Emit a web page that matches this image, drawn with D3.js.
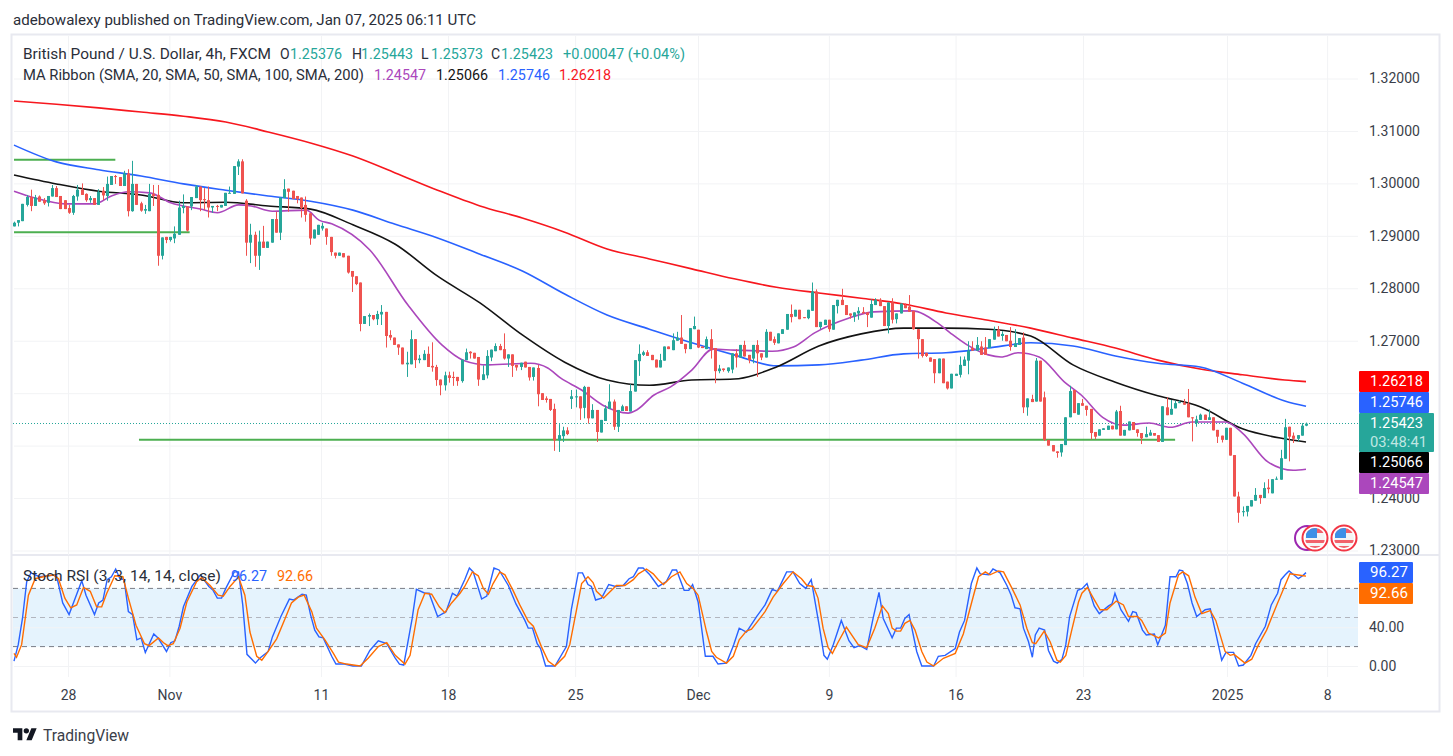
<!DOCTYPE html>
<html>
<head>
<meta charset="utf-8">
<script src="https://cdnjs.cloudflare.com/ajax/libs/d3/7.8.5/d3.min.js"></script>
<style>
  html, body { margin: 0; background: #fff; }
  svg { display: block; font-family: Roboto, sans-serif; }
  .tick line { stroke: #f2f3f5; }
  .domain { display: none; }
  .tick text { fill: #3a3e49; font-size: 14px; font-family: Roboto, sans-serif; }
</style>
</head>
<body>
<div id="chart"></div>
<script>
const width = 1453;
const height = 756;

// GBP/USD 4h, [open, high, low, close] in units of 0.0001
const candles = [
[12918,12927,12918,12925],[12925,12930,12918,12930],[12928,12961,12928,12961],[12959,12978,12956,12974],[12974,12988,12947,12957],
[12957,12978,12957,12973],[12975,12977,12965,12965],[12968,12972,12959,12962],[12963,12976,12956,12976],[12975,12997,12975,12991],
[12991,12995,12974,12974],[12976,12976,12951,12951],[12968,12968,12951,12951],[12953,12959,12942,12944],[12944,12978,12940,12976],
[12975,12997,12967,12988],[12988,13000,12978,12978],[12980,12981,12965,12968],[12968,12976,12963,12972],[12972,12972,12959,12959],
[12959,12989,12959,12984],[12986,12993,12968,12977],[12976,13013,12967,12999],[12997,13014,12997,13014],[13014,13016,12999,13013],
[13012,13012,12995,12995],[12995,13024,12995,13019],[13019,13027,12937,12947],[12947,13043,12946,12999],[12999,12999,12959,12959],
[12962,12965,12946,12948],[12948,12959,12942,12951],[12947,12999,12947,12980],[12980,12997,12957,12976],[12978,12997,12843,12862],
[12862,12897,12855,12897],[12898,12898,12886,12892],[12892,12898,12889,12898],[12895,12918,12886,12904],[12902,12967,12902,12954],
[12953,12979,12943,12957],[12956,12956,12908,12910],[12956,12974,12949,12974],[12972,12997,12972,12994],[12994,12994,12947,12968],
[12970,12991,12949,12968],[12968,12994,12935,12954],[12954,12957,12944,12957],[12957,12959,12947,12956],[12954,12959,12954,12959],
[12957,12982,12957,12982],[12981,12994,12981,12982],[12980,13033,12980,13033],[13032,13046,13016,13042],[13042,13046,12981,12981],
[12967,12970,12862,12887],[12887,12923,12848,12902],[12902,12908,12841,12862],[12862,12910,12835,12889],[12889,12919,12877,12877],
[12877,12889,12877,12889],[12887,12932,12887,12932],[12932,12946,12906,12906],[12906,12973,12892,12973],[12972,13008,12972,12989],
[12990,12990,12946,12984],[12986,12986,12970,12970],[12976,12976,12962,12970],[12973,12973,12935,12953],[12959,12975,12927,12940],
[12943,12943,12883,12895],[12895,12912,12895,12912],[12902,12921,12902,12921],[12914,12925,12910,12919],[12914,12914,12883,12898],
[12898,12898,12862,12869],
[12868,12868,12857,12862],[12862,12868,12862,12868],[12867,12867,12859,12859],[12862,12862,12828,12830],[12833,12833,12793,12822],
[12823,12823,12806,12808],[12811,12811,12718,12732],[12732,12747,12732,12747],[12746,12752,12728,12749],[12749,12749,12739,12741],
[12741,12757,12730,12751],[12750,12768,12730,12755],[12755,12755,12687,12709],[12711,12720,12701,12706],[12706,12706,12692,12692],
[12693,12693,12673,12687],[12687,12687,12655,12655],[12655,12679,12631,12658],[12655,12720,12655,12703],[12703,12703,12648,12663],
[12663,12673,12657,12666],[12663,12682,12663,12675],[12675,12689,12650,12650],[12652,12697,12641,12649],[12650,12654,12614,12625],
[12626,12626,12596,12615],[12615,12641,12605,12634],[12634,12641,12620,12629],[12631,12641,12614,12629],[12631,12631,12614,12623],
[12623,12664,12620,12664],[12663,12685,12663,12678],[12679,12680,12666,12676],[12677,12677,12666,12666],[12669,12669,12614,12626],
[12625,12653,12625,12636],[12634,12682,12628,12671],[12668,12683,12661,12683],[12680,12695,12680,12690],[12690,12694,12682,12682],
[12684,12714,12664,12666],[12666,12674,12650,12674],[12674,12674,12631,12652],[12654,12654,12643,12649],[12650,12658,12644,12658],
[12660,12660,12649,12649],[12650,12650,12624,12630],[12631,12649,12624,12649],[12648,12654,12575,12598],[12600,12600,12587,12587],
[12590,12594,12582,12587],[12589,12589,12566,12568],[12570,12580,12490,12510],[12510,12541,12488,12520],[12518,12536,12507,12529],
[12529,12535,12520,12522],[12589,12606,12570,12594],[12592,12607,12573,12594],[12594,12594,12549,12571],[12572,12614,12552,12612],
[12612,12612,12542,12552],[12552,12579,12552,12568],[12568,12568,12507,12526],[12525,12549,12525,12549],[12547,12577,12547,12571],
[12570,12617,12570,12584],[12584,12588,12530,12536],[12536,12568,12526,12568],[12566,12578,12566,12575],[12575,12575,12566,12566],
[12565,12617,12565,12604],[12603,12663,12603,12663],[12661,12693,12633,12675],[12673,12681,12671,12678],[12678,12682,12671,12671],
[12673,12673,12663,12663],[12664,12664,12649,12649],[12649,12675,12649,12663],
[12662,12689,12662,12689],[12689,12689,12684,12684],[12682,12714,12682,12701],[12700,12717,12700,12706],[12706,12749,12694,12694],
[12694,12694,12676,12684],[12684,12724,12684,12724],[12722,12746,12722,12728],[12721,12721,12686,12687],[12689,12689,12686,12686],
[12684,12708,12684,12703],[12703,12722,12666,12682],[12686,12686,12619,12642],[12642,12654,12638,12647],[12647,12647,12641,12644],
[12642,12649,12639,12649],[12645,12676,12638,12676],[12676,12684,12649,12668],[12668,12692,12668,12692],[12692,12700,12670,12670],
[12673,12673,12657,12663],[12666,12692,12657,12692],[12692,12701,12631,12676],[12676,12676,12663,12668],[12668,12722,12668,12717],
[12717,12717,12700,12700],[12703,12708,12692,12696],[12695,12714,12695,12714],[12713,12722,12713,12722],[12721,12751,12721,12751],
[12751,12769,12735,12745],[12746,12759,12746,12759],[12759,12759,12741,12741],[12745,12745,12743,12743],[12743,12759,12741,12759],
[12757,12811,12757,12794],[12794,12798,12726,12726],[12726,12736,12722,12736],[12730,12740,12730,12740],[12740,12740,12717,12722],
[12721,12768,12721,12768],[12766,12778,12752,12778],[12778,12799,12768,12768],[12768,12768,12749,12749],[12752,12752,12742,12748],
[12746,12754,12736,12754],[12752,12764,12740,12757],[12755,12764,12752,12752],[12754,12754,12726,12749],[12744,12779,12744,12770],
[12768,12781,12768,12778],[12778,12781,12766,12766],[12766,12766,12728,12728],[12728,12773,12714,12773],[12773,12781,12733,12740],
[12741,12752,12733,12752],[12752,12771,12752,12771],[12768,12771,12762,12762],[12765,12787,12755,12755],[12757,12757,12721,12722],
[12722,12722,12666,12703],[12703,12703,12668,12671],[12677,12677,12669,12671],[12668,12668,12660,12660],[12665,12665,12619,12638],
[12638,12666,12638,12666],[12666,12666,12619,12619],[12622,12622,12607,12609],[12609,12637,12609,12637],[12633,12637,12633,12637],
[12635,12670,12630,12654],[12652,12670,12652,12664],[12662,12699,12636,12681],[12686,12699,12681,12681],[12681,12707,12681,12692],
[12689,12699,12673,12673],[12687,12707,12673,12673],[12686,12703,12686,12703],[12702,12727,12702,12721],[12721,12728,12708,12708],
[12709,12718,12700,12713],[12711,12711,12699,12699],[12700,12726,12681,12688],[12688,12722,12688,12695],[12692,12705,12692,12705],
[12706,12716,12562,12573],[12573,12590,12557,12590],[12589,12597,12583,12583],[12584,12667,12584,12662],[12662,12662,12584,12584],
[12592,12603,12509,12511],[12511,12511,12500,12500],[12501,12501,12489,12489],[12489,12489,12477,12486],[12487,12503,12479,12503],
[12501,12554,12501,12554],[12554,12614,12554,12604],[12606,12606,12562,12562],[12559,12581,12559,12581],[12581,12589,12576,12576],
[12576,12576,12557,12568],[12570,12570,12512,12524],[12526,12526,12512,12517],[12519,12531,12519,12531],[12530,12533,12530,12533],
[12530,12538,12530,12538],[12538,12538,12531,12531],[12531,12568,12531,12565],[12566,12576,12519,12519],[12519,12530,12519,12530],
[12529,12546,12529,12546],[12545,12545,12530,12530],[12531,12531,12517,12524],[12524,12524,12503,12514],[12516,12536,12516,12522],
[12519,12530,12519,12525],[12524,12524,12519,12519],[12520,12520,12507,12507],[12507,12575,12507,12575],[12573,12592,12558,12558],
[12559,12587,12559,12570],[12571,12586,12571,12581],[12581,12586,12581,12583],[12582,12589,12578,12578],[12580,12608,12554,12554],
[12554,12554,12508,12552],[12543,12557,12536,12550],[12549,12561,12549,12559],[12559,12559,12549,12549],[12549,12569,12549,12554],
[12554,12554,12529,12529],[12530,12530,12505,12517],[12519,12519,12506,12511],[12511,12534,12511,12534],[12534,12534,12481,12481],
[12482,12482,12403,12403],[12403,12412,12353,12372],[12373,12384,12365,12375],[12374,12385,12365,12385],[12384,12396,12384,12396],
[12395,12419,12395,12406],[12406,12406,12389,12400],[12400,12430,12400,12419],[12420,12436,12409,12417],[12409,12436,12409,12436],
[12435,12441,12435,12437],[12435,12492,12435,12476],[12475,12551,12475,12535],[12536,12536,12470,12517],[12519,12525,12505,12513],
[12513,12520,12508,12520],[12519,12543,12519,12538],[12538,12544,12537,12542]
];

// moving averages, [bar, value in 0.0001]
const sma200 = [[0,13157],[10,13151],[20,13144],[30,13136],[40,13128],[50,13117],[60,13098],[70,13077],[80,13052],[90,13020],[100,12987],[110,12957],[120,12934],[130,12907],[140,12875],[150,12856],[160,12837],[170,12818],[180,12802],[190,12791],[200,12781],[210,12770],[220,12753],[230,12739],[240,12724],[250,12705],[260,12686],[270,12663],[280,12646],[290,12635],[300,12625],[305,12622]];
const sma100 = [[0,13073],[10,13041],[20,13026],[30,13014],[40,12999],[50,12987],[60,12976],[70,12966],[80,12949],[90,12922],[100,12896],[110,12865],[120,12833],[130,12789],[140,12749],[150,12722],[160,12696],[170,12673],[180,12652],[190,12654],[200,12663],[210,12675],[220,12677],[230,12686],[240,12696],[250,12690],[260,12671],[270,12657],[280,12650],[290,12619],[300,12585],[305,12575]];
const sma50 = [[0,13016],[10,12999],[20,12985],[30,12978],[40,12963],[50,12964],[60,12957],[70,12951],[80,12921],[90,12884],[100,12823],[110,12772],[120,12711],[130,12659],[140,12625],[150,12615],[160,12625],[170,12627],[180,12650],[190,12690],[200,12713],[210,12724],[220,12724],[230,12722],[240,12709],[250,12654],[260,12621],[270,12595],[280,12574],[290,12532],[300,12513],[305,12507]];
const sma20 = [[0,12985],[5,12972],[12,12961],[19,12961],[23,12976],[27,12984],[32,12982],[37,12963],[44,12951],[48,12944],[53,12959],[56,12957],[61,12947],[69,12949],[72,12930],[75,12923],[84,12873],[93,12768],[101,12692],[106,12663],[112,12654],[122,12657],[126,12648],[129,12629],[134,12606],[139,12577],[145,12562],[147,12568],[151,12596],[155,12612],[160,12644],[165,12684],[170,12682],[179,12680],[184,12688],[189,12715],[197,12743],[203,12755],[212,12757],[218,12734],[221,12715],[225,12692],[230,12673],[233,12669],[237,12677],[242,12669],[248,12621],[252,12596],[257,12554],[262,12539],[268,12543],[273,12535],[278,12545],[286,12545],[290,12524],[296,12469],[302,12453],[305,12455]];

// Stoch RSI, [bar, value]
const stochK = [[0,5],[1,22],[2,49],[3,87],[4,96],[6,92],[10,94],[11.5,65],[13,53],[16,88],[17,73],[19,53],[20,65],[21,68],[22,89],[23,92],[24,100],[25,90],[26,89],[27,56],[28,53],[29,27],[30,29],[31,14],[33,33],[34,29],[36,15],[37,24],[38,26],[39,41],[40,61],[42,82],[44,94],[46,82],[47,78],[48,70],[49,70],[50,80],[52,97],[53,97],[54,63],[55,12],[57,3],[58,8],[60,15],[61,30],[63,51],[65,69],[66,68],[68,74],[69,73],[70,53],[71,37],[72,30],[73,29],[75,10],[76,2],[78,2],[80,0],[82,0],[84,16],[86,26],[88,23],[90,8],[91,2],[92,1],[94,49],[95,79],[97,75],[98,75],[100,51],[102,56],[103.5,75],[104.6,72],[106.4,89],[107.5,101],[108.4,97],[110.4,69],[111.6,72],[113.3,101],[114.5,99],[116.7,83],[118.5,64],[120.6,47],[121.4,39],[122.4,39],[123.5,23],[124.3,18],[125.5,0],[127.7,0],[130.4,20],[131.6,59],[133.2,96],[134.2,96],[135.5,84],[136.3,82],[137.3,68],[138.7,70],[140.4,84],[142,82],[143.8,83],[145.2,90],[146.2,92],[147.4,101],[148.5,101],[150.1,94],[152.1,82],[154,87],[155.4,99],[156.4,99],[158.2,78],[159.3,78],[160.2,84],[161.5,66],[163.2,10],[165,10],[166.2,2],[168.2,3],[169.9,22],[171.2,39],[172.9,35],[175.3,51],[177.3,63],[179,79],[180.2,77],[182.4,97],[183.9,97],[185.5,85],[186.9,80],[188.2,89],[190.1,41],[191.2,11],[192,7],[193.4,22],[195.3,47],[197.1,26],[198.3,19],[199.7,21],[201.3,17],[202.8,49],[204.2,76],[205.2,49],[207.3,29],[208.3,39],[209.3,39],[210.3,49],[211.3,53],[213.1,15],[214.3,0],[217.1,0],[218.2,10],[219.8,11],[222.2,18],[223.2,35],[224.4,47],[226,85],[227.3,101],[228.1,95],[230.1,94],[231.1,100],[232.8,96],[234.4,83],[235.4,73],[236.3,60],[237.5,59],[238.3,39],[239.5,25],[240.4,9],[241.1,32],[242,39],[243.3,37],[244.2,16],[245.4,5],[246.3,3],[247.4,7],[248.3,22],[249.2,51],[251.1,78],[252.2,80],[253.3,85],[255,62],[256.2,54],[258.4,62],[259.2,64],[259.9,75],[261.3,58],[263.1,46],[264.1,56],[264.9,55],[266.4,37],[267.3,32],[269.2,33],[270,22],[271.8,42],[272.9,92],[274.3,92],[275.1,99],[275.9,98],[277,85],[278.1,65],[279.2,51],[281.2,58],[282.4,59],[283.9,30],[285.1,6],[286.1,14],[287.9,14],[289.1,0],[290.2,1],[292,11],[293.1,23],[295.4,41],[296.8,63],[298.3,75],[299.1,89],[300.1,94],[301,98],[302.1,94],[303.2,90],[304.2,93],[305,96.27]];
const stochD = [[0,13],[0.6,9],[1.8,22],[3.4,73],[5,90],[6.9,92],[9.3,94],[10.5,90],[12,70],[13.4,60],[14.8,63],[16.4,81],[18,77],[19.5,61],[20.7,61],[21.9,75],[23.8,93],[25.7,92],[27,70],[28.8,42],[30.8,23],[31.9,21],[34.1,29],[35.3,24],[36.3,21],[37.6,23],[39.2,39],[40.8,66],[43.1,87],[44.3,91],[46.3,83],[48.2,73],[49.4,72],[51,82],[53,92],[54.5,73],[55.7,35],[57.3,10],[58.5,6],[60,15],[62,28],[64,49],[65.5,65],[67.1,71],[68.5,73],[70.3,56],[71.4,39],[73.4,27],[75.4,13],[76.6,4],[78.5,2],[81.7,0],[83.6,8],[86,20],[88,24],[90,11],[92.3,2],[93.5,11],[95.4,58],[97,75],[98.6,74],[100.4,61],[101.7,55],[103.3,65],[105.3,75],[106.4,82],[108.2,97],[109.6,93],[110.8,80],[112,74],[113.1,85],[114.7,97],[115.9,94],[117.8,78],[119.4,63],[121.4,46],[122.6,41],[124.5,20],[126.1,5],[127.7,0],[130,10],[131.2,22],[132.4,49],[134,85],[135.5,92],[136.7,86],[137.5,77],[139.2,70],[142.2,83],[144.2,83],[146.2,89],[147.4,95],[149.3,100],[150.9,95],[152.1,89],[153.3,84],[155.2,92],[157.2,97],[158.8,85],[160.3,80],[161.5,73],[163.5,35],[164.7,15],[165.8,9],[168.2,3],[169.8,10],[171.2,27],[172.9,36],[174.1,38],[177.3,56],[179.2,71],[181.6,85],[183.9,97],[185.9,90],[187.2,83],[188.7,82],[189.8,70],[191,39],[192.2,19],[193.2,13],[194.6,25],[196.5,40],[199.3,22],[201.3,19],[203.2,39],[205,62],[206.4,54],[207.3,39],[208.3,36],[209.3,36],[210.3,44],[211.5,47],[212.7,37],[214.3,15],[215.5,4],[217.1,0],[219.4,8],[222.2,13],[224.1,33],[226.1,66],[227.7,92],[229.3,97],[230.4,94],[232.4,98],[233.6,97],[235.6,80],[237.5,63],[239.1,39],[240.4,24],[241.2,23],[243.2,36],[244.6,25],[246.2,6],[247,4],[248.3,11],[249.7,37],[251.3,66],[252.1,75],[253.4,81],[254.8,70],[256.4,58],[258,58],[260.2,67],[261.9,63],[263.1,51],[265.2,51],[266.2,47],[267.8,34],[270.2,29],[271.8,34],[272.9,65],[274.9,94],[275.9,97],[277.3,93],[278.8,71],[280.4,54],[282.4,57],[283.7,47],[285.9,15],[287.1,11],[288,12],[290.6,3],[292.2,7],[293.8,22],[295.7,37],[298.1,63],[301.2,95],[304.4,93],[305,92.66]];

// bar index of the time axis labels
const timeTicks = [[12.8,'28'],[36.8,'Nov'],[72.7,'11'],[102.8,'18'],[132.9,'25'],[162,'Dec'],[193,'9'],[223,'16'],[253.2,'23'],[287.3,'2025'],[311,'8']];
const tickLabels = new Map(timeTicks);

const levels = [[0,24,1.3045],[0,41.6,1.2907],[29.6,275,1.2511]];

const lastBar = candles.length - 1;
const xScale = d3.scaleLinear().domain([0, lastBar]).range([14, 1306]);
const yScale = d3.scaleLinear().domain([1.23, 1.32]).range([550.5, 78.5]);
const yStoch = d3.scaleLinear().domain([0, 100]).range([666, 569]);

// the line readings were taken on a grid that ends at bar 305
const barOf = b => b * lastBar / 305;

const svg = d3.select('#chart').append('svg')
  .attr('width', width)
  .attr('height', height);

function label(x, y, str, color, len, anchor) {
  const t = svg.append('text')
    .attr('x', x)
    .attr('y', y)
    .attr('dy', '0.35em')
    .attr('fill', color)
    .attr('font-size', 14)
    .attr('text-anchor', anchor || 'start')
    .text(str);
  if (len) t.attr('textLength', len).attr('lengthAdjust', 'spacingAndGlyphs');
  return t;
}

// frame
svg.append('rect').attr('x', 11.5).attr('y', 34.5).attr('width', 1428).attr('height', 677)
  .attr('fill', 'none').attr('stroke', '#e8e9f0').attr('stroke-width', 2);
svg.append('line').attr('x1', 12).attr('x2', 1440).attr('y1', 555).attr('y2', 555)
  .attr('stroke', '#e8e9f0').attr('stroke-width', 2);

// grids
svg.append('g')
  .attr('transform', 'translate(0,677)')
  .call(d3.axisBottom(xScale).tickValues(timeTicks.map(d => d[0])).tickSize(-641).tickFormat(d => tickLabels.get(d)).tickPadding(12))
  .call(g => g.selectAll('.tick text').attr('dy', '0.35em').attr('y', 18))
  .call(g => g.selectAll('.tick line').attr('y2', -121).clone().attr('y1', -122).attr('y2', -641));

// 1.25 and 1.26 sit under the price tags, only their grid lines show
const hiddenPrices = ['1.25000', '1.26000'];
svg.append('g')
  .attr('transform', 'translate(1358,0)')
  .call(d3.axisRight(yScale).tickValues(d3.range(1.23, 1.3201, 0.01)).tickSize(0).tickPadding(11).tickFormat(d3.format('.5f')))
  .call(g => g.selectAll('.tick line').attr('x1', -1344).attr('x2', 0))
  .call(g => g.selectAll('.tick text').filter(d => hiddenPrices.includes(d3.format('.5f')(d))).remove());

svg.append('rect')
  .attr('x', 13).attr('width', 1345)
  .attr('y', yStoch(80)).attr('height', yStoch(20) - yStoch(80))
  .attr('fill', '#e5f3fd');

svg.append('g')
  .attr('transform', 'translate(1358,0)')
  .call(d3.axisRight(yStoch).tickValues([0, 40]).tickSize(0).tickPadding(11).tickFormat(d3.format('.2f')))
  .call(g => g.selectAll('.tick line').attr('x1', -1344).attr('x2', 0).attr('stroke', '#e2e8ee'));

[[80, '#787b86'], [50, '#b2b5be'], [20, '#787b86']].forEach(([v, c]) => {
  svg.append('line')
    .attr('x1', 13).attr('x2', 1358)
    .attr('y1', yStoch(v)).attr('y2', yStoch(v))
    .attr('stroke', c)
    .attr('stroke-dasharray', '5 4');
});

// last price line
svg.append('line')
  .attr('x1', 13).attr('x2', 1358)
  .attr('y1', Math.round(yScale(1.25423)) + 0.5).attr('y2', Math.round(yScale(1.25423)) + 0.5)
  .attr('stroke', '#26a69a')
  .attr('stroke-dasharray', '1 2');

// horizontal levels
svg.selectAll('.level').data(levels)
  .enter().append('line')
  .attr('class', 'level')
  .attr('x1', d => xScale(d[0]))
  .attr('x2', d => xScale(d[1]))
  .attr('y1', d => yScale(d[2]))
  .attr('y2', d => yScale(d[2]))
  .attr('stroke', '#4caf50')
  .attr('stroke-width', 2);

// moving averages
const maLine = d3.line()
  .x(d => xScale(barOf(d[0])))
  .y(d => yScale(d[1] / 1e4))
  .curve(d3.curveMonotoneX);

[[sma200, '#f7171e'], [sma100, '#2962ff'], [sma50, '#131313'], [sma20, '#ab47bc']].forEach(([rows, c]) => {
  svg.append('path')
    .datum(rows)
    .attr('d', maLine)
    .attr('fill', 'none')
    .attr('stroke', c)
    .attr('stroke-width', 1.6);
});

// candles
const up = '#26a69a';
const down = '#ef5350';
const cx = i => Math.round(xScale(i));

svg.selectAll('.wick').data(candles)
  .enter().append('rect')
  .attr('class', 'wick')
  .attr('x', (d, i) => cx(i))
  .attr('width', 1)
  .attr('y', d => yScale(d[1] / 1e4))
  .attr('height', d => yScale(d[2] / 1e4) - yScale(d[1] / 1e4))
  .attr('fill', d => d[3] >= d[0] ? up : down);

svg.selectAll('.body').data(candles)
  .enter().append('rect')
  .attr('class', 'body')
  .attr('x', (d, i) => cx(i) - 1)
  .attr('width', 3)
  .attr('y', d => yScale(Math.max(d[0], d[3]) / 1e4))
  .attr('height', d => Math.max(1, Math.abs(yScale(d[0] / 1e4) - yScale(d[3] / 1e4))))
  .attr('fill', d => d[3] >= d[0] ? up : down);

// stochastic
const stochLine = d3.line()
  .x(d => xScale(barOf(d[0])))
  .y(d => yStoch(d[1]));

[[stochK, '#2962ff'], [stochD, '#ff6d00']].forEach(([rows, c]) => {
  svg.append('path')
    .datum(rows)
    .attr('d', stochLine)
    .attr('fill', 'none')
    .attr('stroke', c)
    .attr('stroke-width', 1.4);
});

// event markers
const defs = svg.append('defs');
[1315, 1344].forEach((fx, n) => {
  defs.append('clipPath').attr('id', 'flag' + n)
    .append('circle').attr('cx', fx).attr('cy', 538).attr('r', 10);
});
svg.append('circle').attr('cx', 1307).attr('cy', 538).attr('r', 12)
  .attr('fill', '#fff').attr('stroke', '#9c27b0').attr('stroke-width', 2);
[1315, 1344].forEach((fx, n) => {
  svg.append('circle').attr('cx', fx).attr('cy', 538).attr('r', 12.5)
    .attr('fill', '#fff').attr('stroke', '#f23645').attr('stroke-width', 2);
  const f = svg.append('g').attr('clip-path', `url(#flag${n})`);
  f.append('rect').attr('x', fx - 10).attr('y', 528).attr('width', 20).attr('height', 20).attr('fill', '#f4f4f4');
  f.append('rect').attr('x', fx - 10).attr('y', 540).attr('width', 20).attr('height', 3).attr('fill', '#f2606a');
  f.append('rect').attr('x', fx - 10).attr('y', 546).attr('width', 20).attr('height', 3).attr('fill', '#f2606a');
  f.append('rect').attr('x', fx - 10).attr('y', 528).attr('width', 20).attr('height', 5).attr('fill', '#f2606a');
  f.append('rect').attr('x', fx - 9).attr('y', 528).attr('width', 11).attr('height', 10).attr('fill', '#3d8fe6');
});

// price tags
const tags = [
  ['1.26218', '#ff0000', 371, 21, 70, 53],
  ['1.25746', '#2962ff', 392, 21, 70, 53],
  ['1.25066', '#000000', 452, 21, 70, 53],
  ['1.24547', '#ab47bc', 473, 21, 70, 53],
  ['96.27', '#2962ff', 562, 21, 54, 38],
  ['92.66', '#ff6d00', 583, 21, 54, 38]
];
tags.forEach(([t, c, y, h, w, len]) => {
  svg.append('rect').attr('x', 1359).attr('y', y).attr('width', w).attr('height', h).attr('rx', 1).attr('fill', c);
  label(1370, y + h / 2, t, '#fff', len);
});
svg.append('rect').attr('x', 1359).attr('y', 413).attr('width', 75).attr('height', 39).attr('rx', 1).attr('fill', '#26a69a');
label(1370, 423, '1.25423', '#fff', 53);
label(1370, 442, '03:48:41', '#bfe6e2', 57);

// header and legends
label(13, 20, 'adebowalexy published on TradingView.com, Jan 07, 2025 06:11 UTC', '#2a2e39', 463);
label(23, 54, 'British Pound / U.S. Dollar, 4h, FXCM', '#2a2e39', 248);
label(280, 54, 'O', '#2a2e39');
label(290, 54, '1.25376', '#26a69a', 52);
label(352, 54, 'H', '#2a2e39');
label(361, 54, '1.25443', '#26a69a', 52);
label(421, 54, 'L', '#2a2e39');
label(431, 54, '1.25373', '#26a69a', 52);
label(491, 54, 'C', '#2a2e39');
label(501, 54, '1.25423', '#26a69a', 52);
label(563, 54, '+0.00047 (+0.04%)', '#26a69a', 122);
label(23, 75, 'MA Ribbon (SMA, 20, SMA, 50, SMA, 100, SMA, 200)', '#2a2e39', 341);
label(374, 75, '1.24547', '#ab47bc', 52);
label(436, 75, '1.25066', '#131313', 52);
label(498, 75, '1.25746', '#2962ff', 52);
label(559, 75, '1.26218', '#f7171e', 52);
label(23, 576, 'Stoch RSI (3, 3, 14, 14, close)', '#2a2e39', 198);
label(231, 576, '96.27', '#2962ff', 36);
label(277, 576, '92.66', '#ff6d00', 36);

// logo
const logo = svg.append('g').attr('transform', 'translate(13,725.5) scale(0.667)').attr('fill', '#131722');
logo.append('path').attr('d', 'M14 22H7V11H0V4h14v18zM28 22h-8l7.5-18h8L28 22z');
logo.append('circle').attr('cx', 20).attr('cy', 8).attr('r', 4);
label(43, 735, 'TradingView', '#3a3e49', 86).attr('font-size', 16);
</script>
</body>
</html>
